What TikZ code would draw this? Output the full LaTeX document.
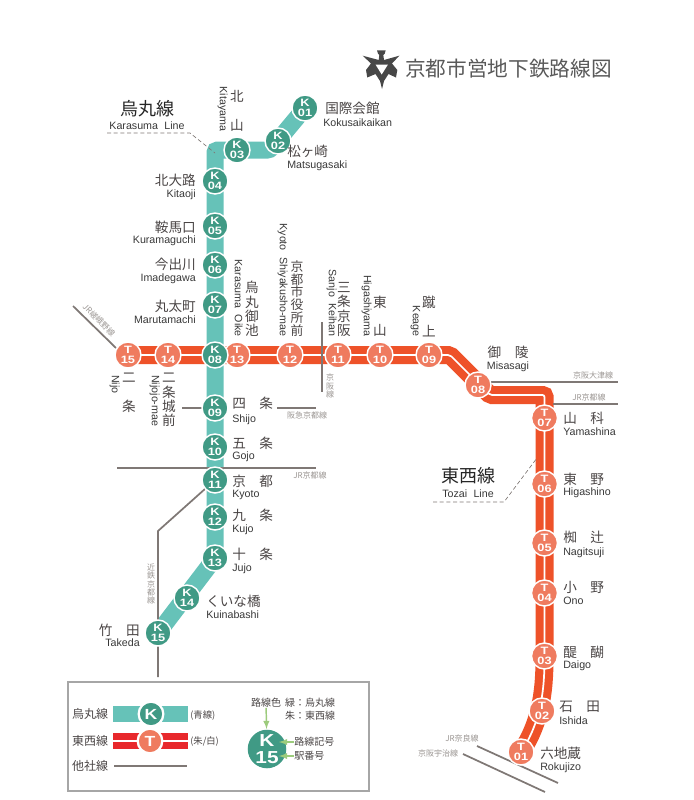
\documentclass[tikz,border=0pt]{standalone}
\usepackage{fontspec}
\setmainfont{Liberation Sans}
\newfontfamily\jpfont{Noto Sans CJK JP}
\newfontfamily\stnfont[FakeStretch=1.2]{Liberation Sans}
\definecolor{kteal}{HTML}{66C2B8}
\definecolor{kgreen}{HTML}{409A85}
\definecolor{torange}{HTML}{EE5229}
\definecolor{tsalmon}{HTML}{EF7B5F}
\definecolor{legred}{HTML}{E8282C}
\definecolor{othergrey}{HTML}{7F7875}
\definecolor{jptext}{HTML}{4A4545}
\definecolor{smallgrey}{HTML}{9A9592}
\definecolor{legarrowgreen}{HTML}{9CCB7C}
\tikzset{
  kband/.style={draw=kteal,line width=12.75pt},
  tband/.style={draw=torange,line width=6.1pt,double=white,double distance=1.3pt,rounded corners=1.5pt},
  otherline/.style={draw=othergrey,line width=1.3pt},
  kstn/.style={circle,fill=kgreen,draw=white,line width=1.1pt,minimum size=19.5pt,inner sep=0pt,text=white,align=center,font=\stnfont\bfseries\fontsize{8}{7.4}\selectfont},
  tstn/.style={kstn,fill=tsalmon},
  jpname/.style={inner sep=0pt,align=center,text=jptext,font=\jpfont\fontsize{10.2}{10.8}\selectfont},
  romname/.style={inner sep=0pt,text=black!78,text height=8pt,text depth=1.7pt,font=\fontsize{8}{9}\selectfont},
  smallname/.style={inner sep=0pt,align=center,text=smallgrey,font=\jpfont\fontsize{6}{6.2}\selectfont},
  linetitle/.style={inner sep=0pt,text=black!85,font=\jpfont\fontsize{13.5}{14}\selectfont},
  leaderline/.style={draw=othergrey,line width=0.5pt,dash pattern={on 3pt off 2pt}},
  legarrow/.style={draw=legarrowgreen,line width=1.1pt,-latex},
  legname/.style={inner sep=0pt,text=jptext,font=\jpfont\fontsize{9}{10}\selectfont},
  legsmall/.style={legname,font=\jpfont\fontsize{7.5}{8}\selectfont},
  legletter/.style={line width=1.7pt,minimum size=18.5pt,font=\stnfont\bfseries\fontsize{11}{11}\selectfont},
}
\begin{document}
\begin{tikzpicture}[x=0.75pt,y=0.75pt,yscale=-1,xscale=1]
    \useasboundingbox (0,0) rectangle (693,800);

    % Station positions
    \coordinate (k01) at (305,108); \coordinate (k03) at (237,150);
    \coordinate (k09) at (215,408); \coordinate (k13) at (215,558); \coordinate (k15) at (158,633);
    \coordinate (k11) at (215,480);
    \coordinate (kbend) at (270,150);
    \coordinate (kcorner) at (215,150);
    \coordinate (t15) at (128,355);
    \coordinate (tbenda) at (450,355); \coordinate (tbendb) at (490,395); \coordinate (tbendc) at (544.5,395);
    \coordinate (t03) at (544.5,656); \coordinate (t01) at (521,752);

    % Karasuma band
    \draw [kband,rounded corners=2pt]  (k15) -- (k13) -- (kcorner) -- (kbend) -- (k01) ;
    % Tozai band
    \draw [tband]  (t15) -- (tbenda) -- (tbendb) -- (tbendc) -- (t03) .. controls (544.5,690) and (541,722) .. (t01) ;

    % Other lines
    \coordinate (jrnw) at (73,306); \coordinate (jrnwend) at (116,348);
    \draw [otherline]  (jrnw) -- (jrnwend) ;
    \coordinate (keihana) at (322,322); \coordinate (keihanb) at (322,392);
    \draw [otherline]  (keihana) -- (keihanb) ;
    \coordinate (shijol) at (182,408); \coordinate (shijom) at (277,408); \coordinate (shijor) at (316,408);
    \draw [otherline]  (shijol) -- (k09) ;
    \draw [otherline]  (shijom) -- (shijor) ;
    \coordinate (jrkyotol) at (117,468); \coordinate (jrkyotor) at (316,468);
    \draw [otherline]  (jrkyotol) -- (jrkyotor) ;
    \coordinate (kinbend) at (158,531); \coordinate (kinend) at (158,677);
    \draw [otherline]  (k11) -- (kinbend) -- (kinend) ;
    \coordinate (otsua) at (490,382); \coordinate (otsub) at (618,382);
    \draw [otherline]  (otsua) -- (otsub) ;
    \coordinate (jreasta) at (553,404); \coordinate (jreastb) at (618,404);
    \draw [otherline]  (jreasta) -- (jreastb) ;
    \coordinate (naraa) at (477,746); \coordinate (narab) at (558,783);
    \draw [otherline]  (naraa) -- (narab) ;
    \coordinate (ujia) at (463,754); \coordinate (ujib) at (545,792);
    \draw [otherline]  (ujia) -- (ujib) ;

    % Tozai stations
    \draw (128,355) node [tstn] (ta15) {T\\15};
    \draw (168,355) node [tstn] (ta14) {T\\14};
    \draw (237,355) node [tstn] (ta13) {T\\13};
    \draw (290,355) node [tstn] (ta12) {T\\12};
    \draw (338,355) node [tstn] (ta11) {T\\11};
    \draw (380,355) node [tstn] (ta10) {T\\10};
    \draw (429,355) node [tstn] (ta09) {T\\09};
    \draw (478,385) node [tstn] (ta08) {T\\08};
    \draw (544.5,418) node [tstn] (ta07) {T\\07};
    \draw (544.5,484) node [tstn] (ta06) {T\\06};
    \draw (544.5,543) node [tstn] (ta05) {T\\05};
    \draw (544.5,593) node [tstn] (ta04) {T\\04};
    \draw (544.5,656) node [tstn] (ta03) {T\\03};
    \draw (542,711) node [tstn] (ta02) {T\\02};
    \draw (521,752) node [tstn] (ta01) {T\\01};

    % Karasuma stations
    \draw (305,108) node [kstn] (ka01) {K\\01};
    \draw (278,141) node [kstn] (ka02) {K\\02};
    \draw (237,150) node [kstn] (ka03) {K\\03};
    \draw (215,181) node [kstn] (ka04) {K\\04};
    \draw (215,226) node [kstn] (ka05) {K\\05};
    \draw (215,265) node [kstn] (ka06) {K\\06};
    \draw (215,305) node [kstn] (ka07) {K\\07};
    \draw (215,355) node [kstn] (ka08) {K\\08};
    \draw (215,408) node [kstn] (ka09) {K\\09};
    \draw (215,447) node [kstn] (ka10) {K\\10};
    \draw (215,480) node [kstn] (ka11) {K\\11};
    \draw (215,517) node [kstn] (ka12) {K\\12};
    \draw (215,558) node [kstn] (ka13) {K\\13};
    \draw (187,598) node [kstn] (ka14) {K\\14};
    \draw (158,633) node [kstn] (ka15) {K\\15};

    % Emblem
    \fill [fill=black!72] (377,50.3) -- (385.7,50.3) -- (384.7,53.7) -- (383.3,55) -- (384,60) -- (399.3,55.7) -- (392,63.5) -- (397.3,70) -- (396,77.5) -- (388.5,74) -- (384,81) -- (382,89) -- (380,81) -- (375.5,74) -- (367.3,77.5) -- (366,70) -- (371,63.5) -- (362.7,55.7) -- (378.7,60) -- (379.3,55) -- (378,53.7) -- cycle ;
    \fill [fill=white] (375.5,64.5) -- (388,64.5) -- (381.7,74.5) -- cycle ;

    % Text Node
    \draw (405,69) node [anchor=west,inner sep=0pt,text=black!65,font=\jpfont\fontsize{15.5}{16}\selectfont] (title) {京都市営地下鉄路線図};
    % Text Node
    \draw (147,109) node [linetitle] (karatitle) {烏丸線};
    \draw (147,125) node [romname] (kararom) {Karasuma\hspace{0.6em}Line};
    \coordinate (karadasha) at (107,133); \coordinate (karadashb) at (190,133); \coordinate (karadashc) at (215,153);
    \draw [leaderline]  (karadasha) -- (karadashb) -- (karadashc) ;
    % Text Node
    \draw (468,476) node [linetitle] (tozaititle) {東西線};
    \draw (468,493) node [romname] (tozairom) {Tozai\hspace{0.6em}Line};
    \coordinate (tozaidasha) at (433,502); \coordinate (tozaidashb) at (504,502); \coordinate (tozaidashc) at (537,458);
    \draw [leaderline]  (tozaidasha) -- (tozaidashb) -- (tozaidashc) ;

    % Text Node
    \draw (325,108) node [jpname,anchor=west] (n01) {国際会館};
    \draw (323,122) node [romname,anchor=west] (r01) {Kokusaikaikan};
    \draw (287,151) node [jpname,anchor=west] (n02) {松ヶ崎};
    \draw (287,164) node [romname,anchor=west] (r02) {Matsugasaki};
    \draw (237,111) node [jpname] (n03) {北\\　\\山};
    \draw (224,109) node [romname,rotate=-90] (r03) {Kitayama};
    \draw (196,180) node [jpname,anchor=east] (n04) {北大路};
    \draw (196,193) node [romname,anchor=east] (r04) {Kitaoji};
    \draw (196,227) node [jpname,anchor=east] (n05) {鞍馬口};
    \draw (196,239) node [romname,anchor=east] (r05) {Kuramaguchi};
    \draw (196,264) node [jpname,anchor=east] (n06) {今出川};
    \draw (196,277) node [romname,anchor=east] (r06) {Imadegawa};
    \draw (196,306) node [jpname,anchor=east] (n07) {丸太町};
    \draw (196,319) node [romname,anchor=east] (r07) {Marutamachi};
    \draw (232,403) node [jpname,anchor=west] (n09) {四　条};
    \draw (232,418) node [romname,anchor=west] (r09) {Shijo};
    \draw (232,443) node [jpname,anchor=west] (n10) {五　条};
    \draw (232,455) node [romname,anchor=west] (r10) {Gojo};
    \draw (232,481) node [jpname,anchor=west] (n11) {京　都};
    \draw (232,493) node [romname,anchor=west] (r11) {Kyoto};
    \draw (232,515) node [jpname,anchor=west] (n12) {九　条};
    \draw (232,528) node [romname,anchor=west] (r12) {Kujo};
    \draw (232,554) node [jpname,anchor=west] (n13) {十　条};
    \draw (232,567) node [romname,anchor=west] (r13) {Jujo};
    \draw (206,601) node [jpname,anchor=west] (n14) {くいな橋};
    \draw (206,614) node [romname,anchor=west] (r14) {Kuinabashi};
    \draw (140,630) node [jpname,anchor=east] (n15) {竹　田};
    \draw (140,642) node [romname,anchor=east] (r15) {Takeda};

    % Text Node
    \draw (252,337) node [jpname,anchor=south] (t13n) {烏\\丸\\御\\池};
    \draw (239,337) node [romname,rotate=-90,anchor=east] (t13r) {Karasuma\hspace{0.6em}Oike};
    \draw (297,337) node [jpname,anchor=south,font=\jpfont\fontsize{9.6}{9.7}\selectfont] (t12n) {京\\都\\市\\役\\所\\前};
    \draw (284,337) node [romname,rotate=-90,anchor=east] (t12r) {Kyoto\hspace{0.6em}Shiyakusho-mae};
    \draw (344,337) node [jpname,anchor=south] (t11n) {三\\条\\京\\阪};
    \draw (333,337) node [romname,rotate=-90,anchor=east] (t11r) {Sanjo\hspace{0.6em}Keihan};
    \draw (380,337) node [jpname,anchor=south] (t10n) {東\\　\\山};
    \draw (368,337) node [romname,rotate=-90,anchor=east] (t10r) {Higashiyama};
    \draw (429,337) node [jpname,anchor=south] (t09n) {蹴\\　\\上};
    \draw (417,337) node [romname,rotate=-90,anchor=east] (t09r) {Keage};
    \draw (508,352) node [jpname] (t08n) {御　陵};
    \draw (508,365) node [romname] (t08r) {Misasagi};
    \draw (129,373) node [jpname,anchor=north] (t15n) {二\\　\\条};
    \draw (116,375) node [romname,rotate=-90,anchor=west] (t15r) {Nijo};
    \draw (169,373) node [jpname,anchor=north] (t14n) {二\\条\\城\\前};
    \draw (156,375) node [romname,rotate=-90,anchor=west] (t14r) {Nijojo-mae};
    \draw (563,418) node [jpname,anchor=west] (t07n) {山　科};
    \draw (563,431) node [romname,anchor=west] (t07r) {Yamashina};
    \draw (563,479) node [jpname,anchor=west] (t06n) {東　野};
    \draw (563,491) node [romname,anchor=west] (t06r) {Higashino};
    \draw (563,537) node [jpname,anchor=west] (t05n) {椥　辻};
    \draw (563,551) node [romname,anchor=west] (t05r) {Nagitsuji};
    \draw (563,587) node [jpname,anchor=west] (t04n) {小　野};
    \draw (563,600) node [romname,anchor=west] (t04r) {Ono};
    \draw (563,652) node [jpname,anchor=west] (t03n) {醍　醐};
    \draw (563,664) node [romname,anchor=west] (t03r) {Daigo};
    \draw (559,707) node [jpname,anchor=west] (t02n) {石　田};
    \draw (559,720) node [romname,anchor=west] (t02r) {Ishida};
    \draw (540,753) node [jpname,anchor=west] (t01n) {六地蔵};
    \draw (540,766) node [romname,anchor=west] (t01r) {Rokujizo};

    % Text Node
    \draw (99,320) node [smallname,rotate=-45] (sagano) {JR嵯峨野線};
    \draw (330,386) node [smallname] (keihanl) {京\\阪\\線};
    \draw (307,415) node [smallname] (hankyu) {阪急京都線};
    \draw (310,475) node [smallname] (jrkyoto) {JR京都線};
    \draw (151,584) node [smallname] (kintetsu) {近\\鉄\\京\\都\\線};
    \draw (593,375) node [smallname] (otsu) {京阪大津線};
    \draw (589,397) node [smallname] (jrkyotob) {JR京都線};
    \draw (462,738) node [smallname] (jrnara) {JR奈良線};
    \draw (438,753) node [smallname] (uji) {京阪宇治線};

    % Legend
    \draw [draw=black!35,line width=0.8pt] (68,682) rectangle (369,791);
    \draw (90,714) node [legname] (legk) {烏丸線};
    \coordinate (legkl) at (113,714); \coordinate (legkr) at (188,714);
    \draw [kband,line width=11.5pt]  (legkl) -- (legkr) ;
    \draw (151,714) node [kstn,legletter] (legkc) {K};
    \draw (190,715) node [legname,anchor=west,font=\jpfont\fontsize{7}{8}\selectfont] (legkt) {(青線)};
    \draw (90,741) node [legname] (legt) {東西線};
    \coordinate (legtl) at (113,741); \coordinate (legtr) at (188,741);
    \draw [draw=legred,line width=5.6pt,double=white,double distance=1.5pt]  (legtl) -- (legtr) ;
    \draw (150,741) node [tstn,legletter] (legtc) {T};
    \draw (190,741) node [legname,anchor=west,font=\jpfont\fontsize{7}{8}\selectfont] (legtt) {(朱/白)};
    \draw (90,766) node [legname] (lego) {他社線};
    \coordinate (legol) at (114,766); \coordinate (legor) at (187,766);
    \draw [otherline]  (legol) -- (legor) ;

    \draw (267,749) node [kstn,draw=none,minimum size=28.9pt,font=\stnfont\bfseries\fontsize{13}{12.5}\selectfont] (bigk) {K\\15};
    \draw (266,703) node [legsmall] (legcolor) {路線色};
    \draw (310,703) node [legsmall] (leggreen) {緑：烏丸線};
    \draw (310,716) node [legsmall] (legvermil) {朱：東西線};
    \draw (294,742) node [legsmall,anchor=west] (legsym) {路線記号};
    \draw (294,756) node [legsmall,anchor=west] (legnum) {駅番号};
    \coordinate (legsymtip) at (279,742); \coordinate (legnumtip) at (279,756);
    \draw [legarrow]  (legcolor) -- (bigk) ;
    \draw [legarrow]  (legsym) -- (legsymtip) ;
    \draw [legarrow]  (legnum) -- (legnumtip) ;
\end{tikzpicture}
\end{document}
